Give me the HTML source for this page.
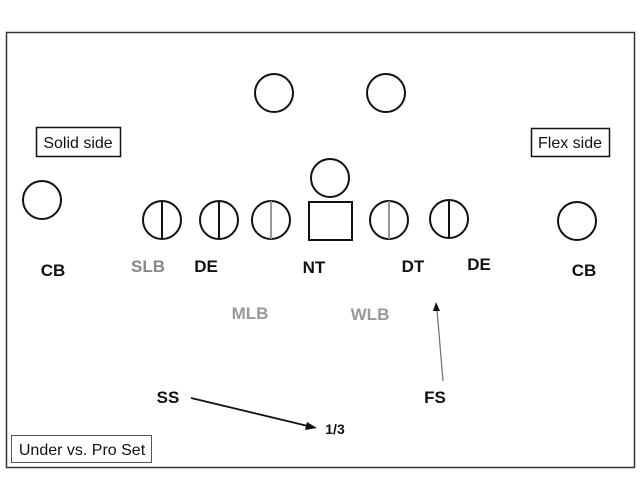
<!DOCTYPE html>
<html><head><meta charset="utf-8"><style>
html,body{margin:0;padding:0;background:#fff;}
svg{display:block;}
text{font-family:"Liberation Sans",sans-serif;}
</style></head><body>
<svg width="640" height="480" viewBox="0 0 640 480" xmlns="http://www.w3.org/2000/svg">
<rect x="0" y="0" width="640" height="480" fill="#fff"/>
<rect x="6.5" y="32.5" width="628" height="435" fill="none" stroke="#333" stroke-width="1.5"/>
<g fill="none" stroke="#111" stroke-width="2">
<circle cx="274" cy="93" r="19"/>
<circle cx="386" cy="93" r="19"/>
<circle cx="330" cy="178" r="19"/>
<rect x="309" y="202" width="43" height="38"/>
<circle cx="42" cy="200" r="19"/>
<circle cx="577" cy="221" r="19"/>
<circle cx="162" cy="220" r="19"/>
<circle cx="219" cy="220" r="19"/>
<circle cx="271" cy="220" r="19"/>
<circle cx="389" cy="220" r="19"/>
<circle cx="449" cy="219" r="19"/>
</g>
<g stroke-width="2">
<line x1="162" y1="201" x2="162" y2="239" stroke="#111"/>
<line x1="219" y1="201" x2="219" y2="239" stroke="#111"/>
<line x1="271" y1="201" x2="271" y2="239" stroke="#999"/>
<line x1="389" y1="201" x2="389" y2="239" stroke="#999"/>
<line x1="449" y1="200" x2="449" y2="238" stroke="#111"/>
</g>
<rect x="36.5" y="127.5" width="84" height="29" fill="#fff" stroke="#111" stroke-width="1.5"/>
<text x="78" y="148" font-size="16" text-anchor="middle" fill="#111">Solid side</text>
<rect x="531.5" y="128.5" width="78" height="28" fill="#fff" stroke="#111" stroke-width="1.5"/>
<text x="570" y="148" font-size="16" text-anchor="middle" fill="#111">Flex side</text>
<rect x="11.5" y="435.5" width="140" height="27" fill="#fff" stroke="#555" stroke-width="1"/>
<text x="82" y="455" font-size="16" text-anchor="middle" fill="#111">Under vs. Pro Set</text>
<g font-size="17" font-weight="bold" text-anchor="middle" fill="#111">
<text x="53" y="276">CB</text>
<text x="148" y="272" fill="#888">SLB</text>
<text x="206" y="272">DE</text>
<text x="314" y="273">NT</text>
<text x="413" y="272">DT</text>
<text x="479" y="270">DE</text>
<text x="584" y="276">CB</text>
<text x="250" y="319" fill="#999">MLB</text>
<text x="370" y="320" fill="#999">WLB</text>
<text x="168" y="403">SS</text>
<text x="435" y="403">FS</text>
<text x="335" y="434" font-size="14">1/3</text>
</g>
<line x1="191" y1="398" x2="312" y2="427" stroke="#111" stroke-width="1.8"/>
<polygon points="317,428 307,422 305,430" fill="#111"/>
<line x1="443" y1="381" x2="437" y2="310" stroke="#777" stroke-width="1.3"/>
<polygon points="436,302 433,311 440,311" fill="#111"/>
</svg>
</body></html>
